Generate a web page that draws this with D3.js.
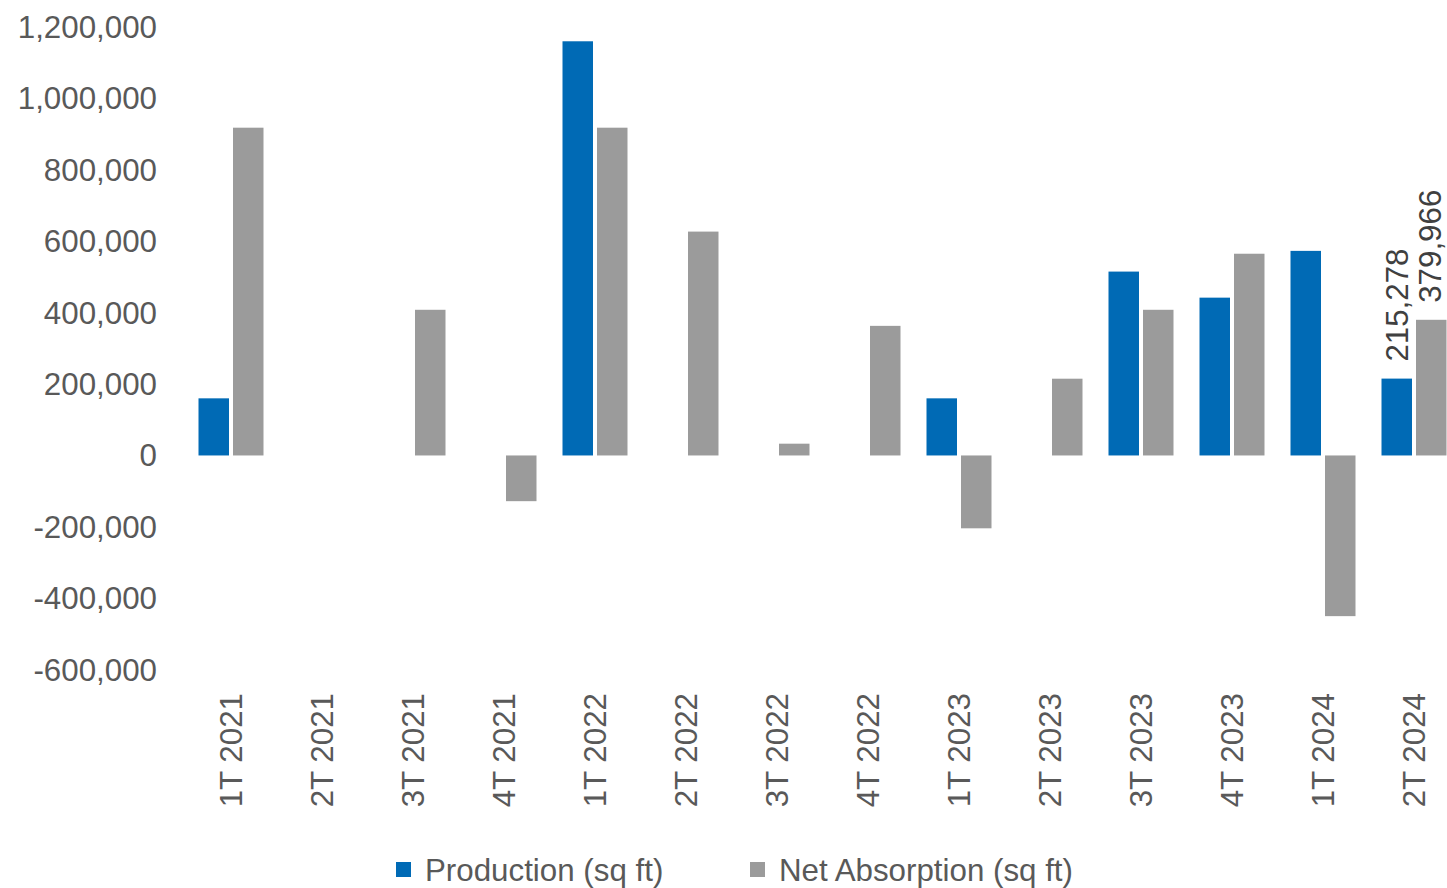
<!DOCTYPE html>
<html>
<head>
<meta charset="utf-8">
<script src="https://cdn.jsdelivr.net/npm/d3@7"></script>
<style>
  body { margin: 0; background: #fff; }
  text { font-family: "Liberation Sans", Arial, sans-serif; }
</style>
</head>
<body>
<div id="chart"></div>
<script>
// quarters and series values (sq ft)
var quarters = ["1T 2021", "2T 2021", "3T 2021", "4T 2021", "1T 2022", "2T 2022", "3T 2022",
  "4T 2022", "1T 2023", "2T 2023", "3T 2023", "4T 2023", "1T 2024", "2T 2024"];
var production = [160000, 0, 0, 0, 1160000, 0, 0, 0, 160000, 0, 515000, 442000, 573000, 215278];
var netAbsorption = [918000, 0, 408000, -128000, 918000, 627000, 33000, 363000, -204000, 215000, 408000, 565000, -450000, 379966];
var yTicks = [-600000, -400000, -200000, 0, 200000, 400000, 600000, 800000, 1000000, 1200000];
var seriesNames = ["Production (sq ft)", "Net Absorption (sq ft)"];
var seriesColors = ["#006AB5", "#9B9B9B"];

var width = 1447, height = 888;
var fontSize = 31.3;
var svg = d3.select("#chart").append("svg")
  .attr("width", width)
  .attr("height", height);

var x = d3.scaleBand().domain(quarters).range([185.5, 1459.5]).padding(0);
var x1 = d3.scaleBand().domain([0, 1]).range([13, 78]).paddingInner(0.116);
var y = d3.scaleLinear().domain([-600000, 1200000]).range([669.7, 27]);

// plain hyphen for negatives, like the original
var fmt = function (v) { return d3.format(",")(v).replace("\u2212", "-"); };

// y axis labels
svg.append("g").selectAll("text")
  .data(yTicks)
  .enter()
  .append("text")
  .attr("x", 157)
  .attr("y", function (d) { return y(d); })
  .attr("dy", "0.35em")
  .attr("text-anchor", "end")
  .attr("font-size", fontSize)
  .attr("fill", "#595959")
  .text(function (d) { return fmt(d); });

// bars
var rows = quarters.map(function (q, i) {
  return { q: q, vals: [production[i], netAbsorption[i]] };
});

var groups = svg.append("g").selectAll("g")
  .data(rows)
  .enter()
  .append("g")
  .attr("transform", function (d) { return "translate(" + x(d.q) + ",0)"; });

groups.selectAll("rect")
  .data(function (d) { return d.vals.map(function (v, k) { return { k: k, v: v }; }); })
  .enter()
  .filter(function (d) { return d.v !== 0; })
  .append("rect")
  .attr("x", function (d) { return x1(d.k); })
  .attr("width", x1.bandwidth())
  .attr("y", function (d) { return y(Math.max(0, d.v)); })
  .attr("height", function (d) { return Math.abs(y(d.v) - y(0)); })
  .attr("fill", function (d) { return seriesColors[d.k]; });

// value labels on the last quarter
var last = rows[rows.length - 1];
last.vals.forEach(function (v, k) {
  var cx = x(last.q) + x1(k) + x1.bandwidth() / 2 - (k === 1 ? 1 : 0);
  svg.append("text")
    .attr("transform", "translate(" + cx + "," + (y(v) - 17) + ") rotate(-90)")
    .attr("dy", "0.35em")
    .attr("font-size", fontSize)
    .attr("fill", "#404040")
    .text(fmt(v));
});

// x axis labels
svg.append("g").selectAll("text")
  .data(quarters)
  .enter()
  .append("text")
  .attr("transform", function (d) {
    return "translate(" + (x(d) + x.bandwidth() / 2) + ",693) rotate(-90)";
  })
  .attr("dy", "0.35em")
  .attr("text-anchor", "end")
  .attr("font-size", fontSize)
  .attr("fill", "#595959")
  .text(function (d) { return d; });

// legend
var legendX = [396, 750];
var legend = svg.append("g").selectAll("g")
  .data(seriesNames)
  .enter()
  .append("g")
  .attr("transform", function (d, i) { return "translate(" + legendX[i] + ",0)"; });

legend.append("rect")
  .attr("x", 0)
  .attr("y", 862)
  .attr("width", 15)
  .attr("height", 15)
  .attr("fill", function (d, i) { return seriesColors[i]; });

legend.append("text")
  .attr("x", 29)
  .attr("y", 870)
  .attr("dy", "0.35em")
  .attr("font-size", fontSize)
  .attr("fill", "#595959")
  .text(function (d) { return d; });
</script>
</body>
</html>
